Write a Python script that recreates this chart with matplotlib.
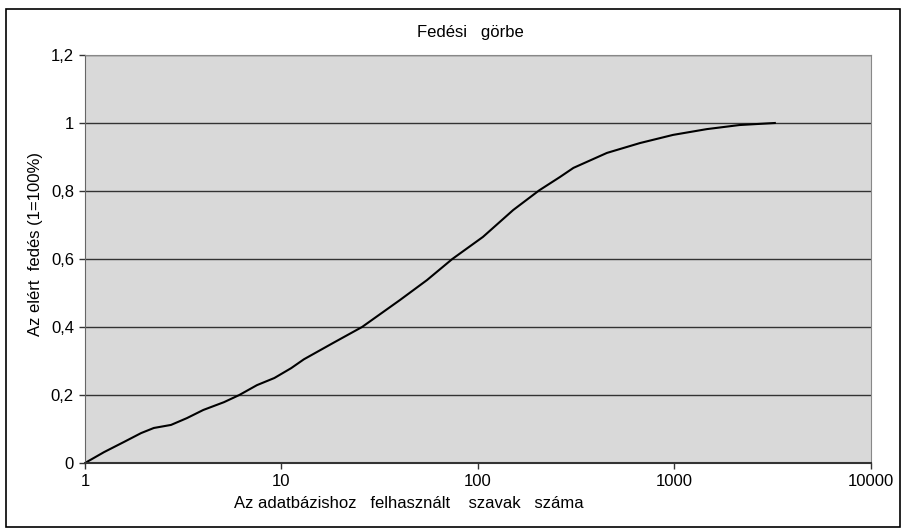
import matplotlib.pyplot as plt
from matplotlib.patches import Rectangle

plt.rcParams['font.family'] = ['Liberation Sans', 'DejaVu Sans']

# coverage curve
words = [1, 1.25, 1.58, 1.93, 2.24, 2.74, 3.3, 4.0, 5.1, 6.1, 7.5, 9.2, 11.2,
         13.0, 18.3, 25.7, 40, 55, 74, 106, 151, 205, 261, 306, 453, 667,
         983, 1460, 2140, 3240]
coverage = [0, 0.032, 0.062, 0.088, 0.103, 0.112, 0.132, 0.156, 0.179, 0.20,
            0.229, 0.25, 0.279, 0.305, 0.353, 0.40, 0.479, 0.538, 0.60, 0.665,
            0.744, 0.802, 0.841, 0.868, 0.912, 0.941, 0.965, 0.982, 0.994, 1.0]

y_ticks = [0, 0.2, 0.4, 0.6, 0.8, 1.0, 1.2]
y_labels = ['0', '0,2', '0,4', '0,6', '0,8', '1', '1,2']
x_ticks = [1, 10, 100, 1000, 10000]
x_labels = ['1', '10', '100', '1000', '10000']

fig = plt.figure(figsize=(9.04, 5.31), dpi=100)
ax = fig.add_axes([85 / 904, 1 - 463 / 531, (871 - 85) / 904, (463 - 55) / 531])

fig.patches.append(Rectangle((6 / 904, 4 / 531), 894 / 904, 518 / 531,
                             transform=fig.transFigure, fill=False,
                             edgecolor='black', linewidth=1.2))

ax.set_facecolor('#d9d9d9')
ax.plot(words, coverage, color='black', linewidth=1.5)

ax.set_xscale('log')
ax.set_xlim(1, 10000)
ax.set_ylim(0, 1.2)
ax.set_xticks(x_ticks)
ax.set_xticklabels(x_labels)
ax.minorticks_off()
ax.set_yticks(y_ticks)
ax.set_yticklabels(y_labels)
ax.tick_params(labelsize=12, length=4, width=1, color='#333333', pad=4)

for y in y_ticks[1:]:
    ax.axhline(y, color='#333333', linewidth=1, zorder=1)

for side in ['top', 'right']:
    ax.spines[side].set_color('#888888')
ax.spines['left'].set_color('#666666')
ax.spines['bottom'].set_color('#333333')
ax.spines['bottom'].set_linewidth(1.5)

fig.text(470 / 904, 1 - 33 / 531, 'Fedési   görbe', ha='center', va='center', fontsize=12)
fig.text(409 / 904, 1 - 503 / 531, 'Az adatbázishoz   felhasznált    szavak   száma',
         ha='center', va='center', fontsize=12)
fig.text(36 / 904, 1 - 244 / 531, 'Az elért  fedés (1=100%)', ha='center', va='center',
         rotation=90, fontsize=12)

fig.savefig('out.png', dpi=100)
